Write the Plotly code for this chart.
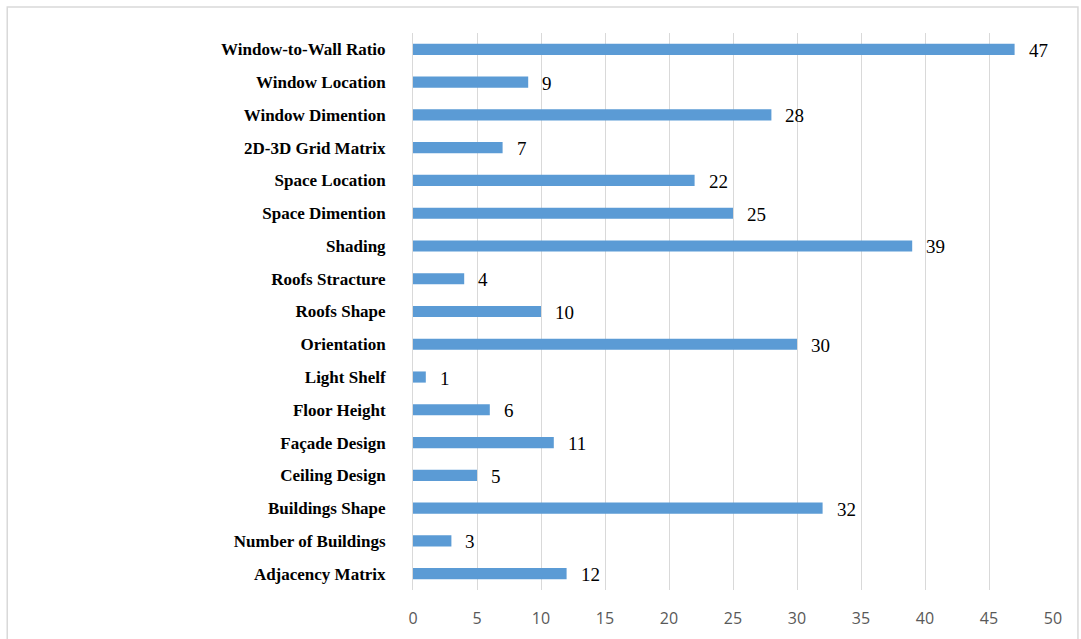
import plotly.graph_objects as go

categories = [
    "Adjacency Matrix", "Number of Buildings", "Buildings Shape", "Ceiling Design",
    "Façade Design", "Floor Height", "Light Shelf", "Orientation", "Roofs Shape",
    "Roofs Stracture", "Shading", "Space Dimention", "Space Location",
    "2D-3D Grid Matrix", "Window Dimention", "Window Location", "Window-to-Wall Ratio",
]
values = [12, 3, 32, 5, 11, 6, 1, 30, 10, 4, 39, 25, 22, 7, 28, 9, 47]
x_ticks = [0, 5, 10, 15, 20, 25, 30, 35, 40, 45, 50]

fig = go.Figure(
    go.Bar(
        x=values,
        y=categories,
        orientation="h",
        marker=dict(color="#5b9bd5", line=dict(width=0)),
        width=0.34,
    )
)

for cat, val in zip(categories, values):
    fig.add_annotation(
        x=val, y=cat, xref="x", yref="y", text=str(val), showarrow=False,
        xanchor="left", yanchor="middle", xshift=12, yshift=-1,
        font=dict(family="Liberation Serif", size=19, color="#000000"),
    )

fig.update_layout(
    width=1081,
    height=639,
    margin=dict(l=413, r=28, t=33, b=49),
    plot_bgcolor="white",
    paper_bgcolor="white",
    showlegend=False,
    xaxis=dict(
        range=[0, 50],
        tickmode="array",
        tickvals=x_ticks,
        showgrid=True,
        gridcolor="#d9d9d9",
        gridwidth=1,
        zeroline=False,
        showline=False,
        ticks="outside",
        ticklen=14,
        tickcolor="rgba(0,0,0,0)",
        tickfont=dict(family="Open Sans", size=16, color="#595959"),
        tickangle=0,
        automargin=False,
        fixedrange=True,
    ),
    yaxis=dict(
        categoryorder="array",
        categoryarray=categories,
        range=[-0.5, len(categories) - 0.5],
        showgrid=False,
        showline=True,
        linecolor="#d9d9d9",
        linewidth=1,
        tickfont=dict(family="Liberation Serif", size=17, color="#000000", weight="bold"),
        ticks="outside",
        ticklen=23,
        tickcolor="rgba(0,0,0,0)",
        automargin=False,
    ),
    shapes=[
        dict(
            type="rect", xref="paper", yref="paper",
            x0=-0.634, x1=1.039, y0=-0.12, y1=1.0467,
            line=dict(color="#d9d9d9", width=1.5), fillcolor="rgba(0,0,0,0)",
            layer="below",
        )
    ],
)

fig.write_html("out.html")
